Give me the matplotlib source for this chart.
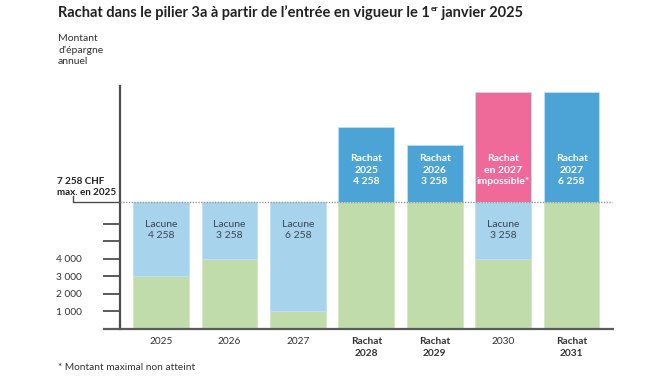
import numpy as np
import matplotlib
matplotlib.use("Agg")
import matplotlib.pyplot as plt

plt.rcParams['font.family'] = ['Lato', 'DejaVu Sans']

# ---- data ----
categories = ["2025", "2026", "2027", "Rachat\n2028", "Rachat\n2029", "2030", "Rachat\n2031"]
bold_cats = [False, False, False, True, True, False, True]
saved = [3000, 4000, 1000, 7258, 7258, 4000, 7258]          # green
gap = [4258, 3258, 6258, 0, 0, 3258, 0]                     # lacune (light blue)
buyback = [0, 0, 0, 4258, 3258, 6258, 6258]                 # rachat (blue / pink)
buyback_possible = [True, True, True, True, True, False, True]
gap_labels = ["Lacune\n4 258", "Lacune\n3 258", "Lacune\n6 258", "", "", "Lacune\n3 258", ""]
buyback_labels = ["", "", "", "Rachat\n2025\n4 258", "Rachat\n2026\n3 258",
                  "Rachat\nen 2027\nimpossible*", "Rachat\n2027\n6 258"]
max_2025 = 7258
yticks = [1000, 2000, 3000, 4000, 5000, 6000]
ytick_labels = ["1 000", "2 000", "3 000", "4 000", "", ""]

GREEN = "#c0dcaa"
LIGHTBLUE = "#a8d3ec"
BLUE = "#4ca3d5"
PINK = "#f06a99"
TXT = "#333333"

fig = plt.figure(figsize=(6.7, 3.77), dpi=100)
ax = fig.add_axes([120/670, 1-328.5/377, (614-120)/670, (328.5-86)/377])

x = np.arange(len(categories))
w = 0.814
saved_a = np.array(saved)
gap_a = np.array(gap)
top_colors = [BLUE if p else PINK for p in buyback_possible]
ax.bar(x, saved_a, w, color=GREEN, edgecolor="#d4e8c4", linewidth=0.6, zorder=2)
ax.bar(x, gap_a, w, bottom=saved_a, color=LIGHTBLUE, edgecolor="#bfe0f2", linewidth=0.6, zorder=2)
ax.bar(x, buyback, w, bottom=saved_a + gap_a, color=top_colors, edgecolor="#bfe0f2", linewidth=0.6, zorder=2)

ax.set_xlim(-0.6, 6.62)
ax.set_ylim(0, 13860)

for s in ["top", "right", "bottom"]:
    ax.spines[s].set_visible(False)
ax.spines["left"].set_color("#4d4d4d")
ax.spines["left"].set_linewidth(1.6)

ax.set_yticks(yticks)
ax.set_yticklabels(ytick_labels)
ax.tick_params(axis="y", length=12.2, width=1.4, color="#5a5a5a", pad=15,
               labelsize=7.3, labelcolor=TXT)
ax.set_xticks(x)
ax.set_xticklabels(categories)
ax.tick_params(axis="x", length=0, pad=6, labelsize=7.3, labelcolor=TXT)
for lbl, b in zip(ax.get_xticklabels(), bold_cats):
    lbl.set_fontweight("bold" if b else "normal")
    lbl.set_linespacing(1.45)

# baseline extending left of the y axis
ax.plot([-0.035, 1], [0, 0], transform=ax.get_yaxis_transform(), color="#5a5a5a",
        lw=1.6, clip_on=False, zorder=4, solid_capstyle="butt")

# max line
ax.plot([0, 0.995], [max_2025, max_2025], transform=ax.get_yaxis_transform(),
        color="#9a9a9a", lw=1.0, ls=(0, (1, 1)), zorder=5)
lead_x = (73 - 120) / 494
ax.plot([lead_x, lead_x, 0], [max_2025 + 290, max_2025, max_2025],
        transform=ax.get_yaxis_transform(), color="#4d4d4d", lw=1.0, clip_on=False)

# segment labels
for xi, lab in zip(x, gap_labels):
    if lab:
        ax.text(xi, 5620, lab, ha="center", va="center", fontsize=7.5,
                color="#3a4650", linespacing=1.35, zorder=6)
for xi, lab in zip(x, buyback_labels):
    if lab:
        ax.text(xi, 9050, lab, ha="center", va="center", fontsize=7.5,
                color="white", fontweight="bold", linespacing=1.35, zorder=6)

# title in pieces (with superscript "er")
t1 = fig.text(58/670, 1-20/377,
              "Rachat dans le pilier 3a à partir de l’entrée en vigueur le 1",
              ha="left", va="bottom", fontsize=10.5, fontweight="bold", color="#222222")
t2 = fig.text(0, 0, "er", fontsize=6, fontweight="bold", color="#222222")
t3 = fig.text(0, 0, " janvier 2025", fontsize=10.5, fontweight="bold", color="#222222")
fig.canvas.draw()
r = fig.canvas.get_renderer()
bb1 = t1.get_window_extent(r)
t2.set_position(((bb1.x1 + 0.5) / fig.bbox.width, (bb1.y0 + 0.52 * bb1.height) / fig.bbox.height))
t2.set_va("bottom")
bb2 = t2.get_window_extent(r)
t3.set_position((bb2.x1 / fig.bbox.width, bb1.y0 / fig.bbox.height))
t3.set_va("bottom")

fig.text(58/670, 1-50/377, "Montant\nd’épargne\nannuel", ha="left", va="center",
         fontsize=7.5, color=TXT, linespacing=1.3)
fig.text(57/670, 1-187/377, "7 258 CHF\nmax. en 2025", ha="left", va="center",
         fontsize=7.1, fontweight="bold", color="#222222", linespacing=1.4)
fig.text(58/670, 1-368/377, "* Montant maximal non atteint", ha="left", va="center",
         fontsize=7.3, color=TXT)

fig.savefig("out.png", dpi=100)
